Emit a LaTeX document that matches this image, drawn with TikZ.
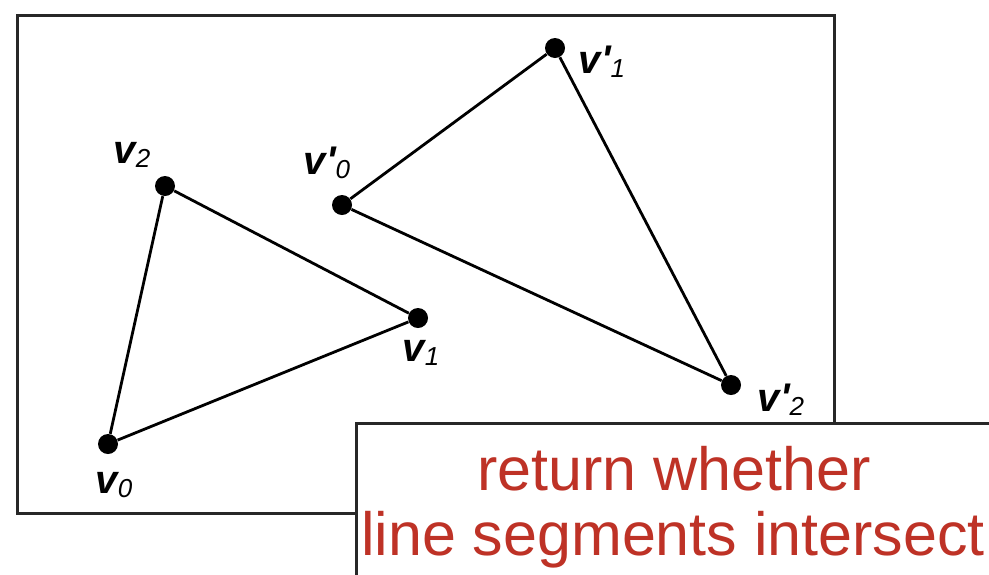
\documentclass[tikz,border=0pt]{standalone}
\usepackage{fontspec}
\setmainfont{Liberation Sans}
\definecolor{txtred}{RGB}{190,50,38}
\definecolor{framegray}{RGB}{40,40,40}
\newcommand\vlab[2]{{\bfseries\itshape v#1}\raisebox{-2pt}{\fontsize{13}{13}\selectfont\itshape #2}}
\begin{document}
\begin{tikzpicture}[x=0.5pt,y=-0.5pt,
  dot/.style={circle,fill=black,inner sep=0pt,minimum size=10pt},
  edge/.style={line width=1.4pt,black},
  lbl/.style={inner sep=0pt,font=\fontsize{20}{20}\selectfont},
  frame/.style={draw=framegray,line width=1.5pt},
  msg/.style={inner sep=0pt,anchor=base,text=txtred,font=\fontsize{30.5}{32}\selectfont}]
\useasboundingbox (0,0) rectangle (989,574);
\clip (0,0) rectangle (989,574);
\fill[white] (0,0) rectangle (989,574);
\draw[frame] (17,15) rectangle (834,513);
% first triangle
\node[dot] (v0) at (108,444) {};
\node[dot] (v1) at (418,318) {};
\node[dot] (v2) at (165,186) {};
\draw[edge] (v0) -- (v1);
\draw[edge] (v1) -- (v2);
\draw[edge] (v2) -- (v0);
% second triangle
\node[dot] (w0) at (342,205) {};
\node[dot] (w1) at (555,48) {};
\node[dot] (w2) at (731,385) {};
\draw[edge] (w0) -- (w1);
\draw[edge] (w1) -- (w2);
\draw[edge] (w2) -- (w0);
% labels
\node[lbl] (lv0) at (114,485) {\vlab{}{0}};
\node[lbl] (lv1) at (421,353) {\vlab{}{1}};
\node[lbl] (lv2) at (132,155) {\vlab{}{2}};
\node[lbl] (lw0) at (327,163) {\vlab{\textquotesingle}{0}};
\node[lbl] (lw1) at (602,62) {\vlab{\textquotesingle}{1}};
\node[lbl] (lw2) at (781,400) {\vlab{\textquotesingle}{2}};
% result box
\draw[frame,fill=white] (356,423) rectangle (1010,600);
\node[msg] (m1) at (674,490) {return whether};
\node[msg] (m2) at (673,555) {line segments intersect};
\end{tikzpicture}
\end{document}
